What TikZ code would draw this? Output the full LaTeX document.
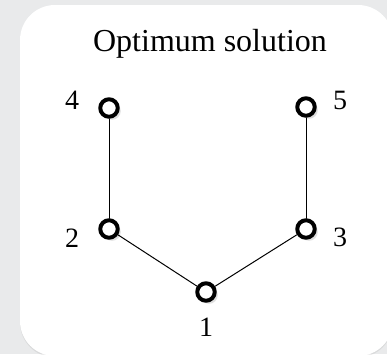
\documentclass[tikz,border=0pt]{standalone}
\usepackage{fontspec}
\setmainfont{Liberation Serif}
\usetikzlibrary{shadows}

\definecolor{pagegrey}{HTML}{E9EAEB}

\begin{document}
\begin{tikzpicture}[x=1pt, y=-1pt, line cap=round, line join=round,
  vertex/.style={circle, draw=black, fill=white, line width=4pt, minimum size=17.5pt, inner sep=0pt,
    drop shadow={shadow xshift=3pt, shadow yshift=-3pt, opacity=0.25}},
  lbl/.style={font=\fontsize{28}{30}\selectfont, inner sep=0pt},
  link/.style={line width=1pt}]
  \useasboundingbox (0,0) rectangle (387,354);
  % Grey page and the white card.
  \fill[pagegrey] (0,0) rectangle (387,354);
  \fill[white, rounded corners=35pt, drop shadow={shadow xshift=0pt, shadow yshift=-1.5pt, opacity=0.15}]
    (20,5) rectangle (393,356);
  \node[font=\fontsize{32}{36}\selectfont, inner sep=0pt] (title) at (210,44) {Optimum solution};
  % Tree vertices.
  \node[vertex] (v1) at (206,292) {};
  \node[vertex] (v2) at (109,229) {};
  \node[vertex] (v3) at (306,229) {};
  \node[vertex] (v4) at (109,108) {};
  \node[vertex] (v5) at (306,107) {};
  % Edges of the solution.
  \draw[link] (v4) -- (v2);
  \draw[link] (v5) -- (v3);
  \draw[link] (v2) -- (v1);
  \draw[link] (v3) -- (v1);
  % Vertex numbers.
  \node[lbl] (n1) at (206,327) {1};
  \node[lbl] (n2) at (72,238) {2};
  \node[lbl] (n3) at (340,237) {3};
  \node[lbl] (n4) at (72,100) {4};
  \node[lbl] (n5) at (340,100) {5};
\end{tikzpicture}
\end{document}
